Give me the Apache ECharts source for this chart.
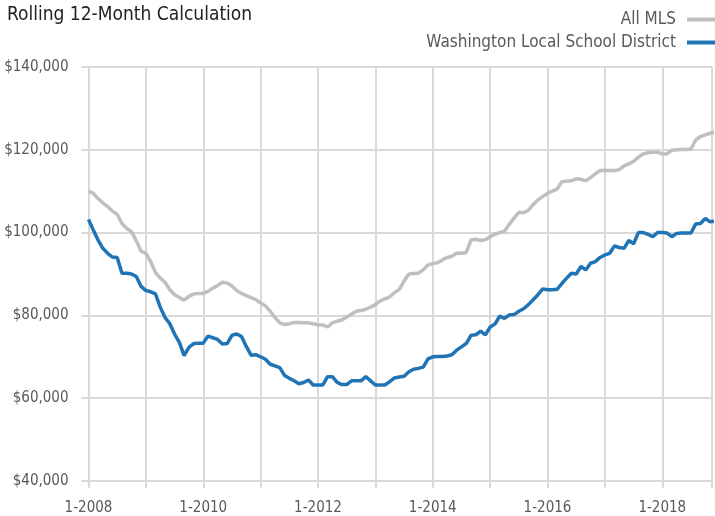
<!DOCTYPE html>
<html>
<head>
<meta charset="utf-8">
<script src="https://cdn.jsdelivr.net/npm/echarts@6/dist/echarts.min.js"></script>
<style>html,body{margin:0;padding:0;background:#fff;}#c{width:715px;height:516px;}</style>
</head>
<body>
<div id="c"></div>
<script>
// Monthly data, Jan 2008 .. Dec 2018 (values in thousands of dollars)
const startYear = 2008;
const seriesNames = ['All MLS', 'Washington Local School District'];
const allMLS = [
110.0,109.5,108.2,107.2,106.3,105.2,104.4,102.2,101.0,100.2,98.0,95.5,
95.0,93.0,90.4,89.0,88.0,86.2,85.0,84.3,83.7,84.6,85.2,85.3,
85.3,85.8,86.6,87.2,88.0,87.8,87.1,86.0,85.3,84.8,84.3,83.8,
83.0,82.3,81.0,79.5,78.2,77.8,78.0,78.3,78.3,78.2,78.2,78.0,
77.7,77.7,77.2,78.2,78.6,78.9,79.6,80.3,81.0,81.2,81.5,82.0,
82.6,83.5,84.0,84.5,85.5,86.3,88.3,90.0,90.1,90.2,91.0,92.2,
92.5,92.7,93.4,94.0,94.3,95.0,95.0,95.2,98.2,98.4,98.1,98.3,
99.0,99.6,100.0,100.3,102.0,103.5,104.9,104.8,105.4,106.8,107.9,108.7,
109.5,110.0,110.5,112.3,112.4,112.5,113.0,112.9,112.5,113.3,114.2,115.0,
115.0,115.0,115.0,115.2,116.1,116.6,117.2,118.2,119.0,119.3,119.4,119.4,
119.0,119.0,119.9,120.0,120.1,120.1,120.2,122.4,123.2,123.6,124.0,124.3
];
const washington = [
103.2,100.6,98.2,96.2,95.0,94.1,94.0,90.2,90.2,90.0,89.4,87.0,
86.0,85.7,85.2,82.0,79.5,78.0,75.5,73.5,70.3,72.3,73.2,73.3,
73.3,75.0,74.6,74.2,73.1,73.2,75.2,75.5,74.9,72.5,70.4,70.5,
70.0,69.4,68.2,67.8,67.4,65.5,64.8,64.2,63.5,63.8,64.4,63.2,
63.2,63.2,65.2,65.2,63.8,63.3,63.3,64.2,64.2,64.2,65.2,64.2,
63.2,63.2,63.2,64.0,64.9,65.1,65.3,66.4,67.0,67.2,67.5,69.5,
70.0,70.1,70.1,70.2,70.5,71.6,72.4,73.2,75.2,75.3,76.2,75.3,
77.2,77.9,79.8,79.3,80.1,80.2,81.0,81.6,82.6,83.8,85.0,86.4,
86.2,86.2,86.3,87.7,89.0,90.2,90.0,91.8,91.0,92.6,93.0,94.0,
94.6,95.0,96.8,96.4,96.2,98.1,97.3,100.0,100.0,99.6,99.0,100.0,
100.0,99.9,99.0,99.8,99.9,99.9,99.9,102.1,102.2,103.4,102.6,102.8
];
const yTicks = [40000, 60000, 80000, 100000, 120000, 140000];

const toPairs = arr => arr.map((v, i) => [i, v * 1000]);
const FONT = '"Liberation Sans Narrow", "DejaVu Sans Condensed", "Liberation Sans", sans-serif';
const GRID = '#d9d9d9';
const TXT = '#595959';

const chart = echarts.init(document.getElementById('c'), null, {renderer: 'canvas'});
chart.setOption({
  animation: false,
  backgroundColor: '#fff',
  textStyle: {fontFamily: FONT},
  title: {
    text: 'Rolling 12-Month Calculation',
    left: 2, top: 1,
    textStyle: {fontFamily: FONT, fontSize: 19, fontWeight: 'normal', color: '#222'}
  },
  legend: {
    orient: 'vertical',
    right: 0, top: 11,
    padding: 0,
    align: 'right',
    itemWidth: 28, itemHeight: 4, itemGap: 6,
    icon: 'rect',
    textStyle: {fontFamily: FONT, fontSize: 17, color: TXT, padding: [0, 6, 0, 0]},
    data: seriesNames
  },
  grid: {left: 88.5, right: 0, top: 67, bottom: 35, containLabel: false},
  xAxis: {
    type: 'value',
    min: 0, max: 130.4, interval: 12,
    axisLine: {show: true, lineStyle: {color: GRID, width: 2}},
    axisTick: {show: true, length: 7, lineStyle: {color: GRID, width: 2}},
    splitLine: {show: true, lineStyle: {color: GRID, width: 2}},
    axisLabel: {
      margin: 20, color: TXT, fontFamily: FONT, fontSize: 15,
      formatter: v => (v % 24 === 0 ? '1-' + (startYear + v / 12) : '')
    }
  },
  yAxis: {
    type: 'value',
    min: yTicks[0], max: yTicks[yTicks.length - 1], interval: 20000,
    axisLine: {show: true, lineStyle: {color: GRID, width: 2}},
    axisTick: {show: true, length: 7, lineStyle: {color: GRID, width: 2}},
    splitLine: {show: true, lineStyle: {color: GRID, width: 2}},
    axisLabel: {
      margin: 20, color: TXT, fontFamily: FONT, fontSize: 15,
      formatter: v => '$' + v.toLocaleString('en-US')
    }
  },
  series: [
    {
      name: seriesNames[0], type: 'line', data: toPairs(allMLS),
      showSymbol: false, symbol: 'none',
      itemStyle: {color: '#bfbfbf'},
      lineStyle: {color: '#bfbfbf', width: 3.5}
    },
    {
      name: seriesNames[1], type: 'line', data: toPairs(washington),
      showSymbol: false, symbol: 'none',
      itemStyle: {color: '#1f74b6'},
      lineStyle: {color: '#1f74b6', width: 3.5}
    }
  ]
});
</script>
</body>
</html>
